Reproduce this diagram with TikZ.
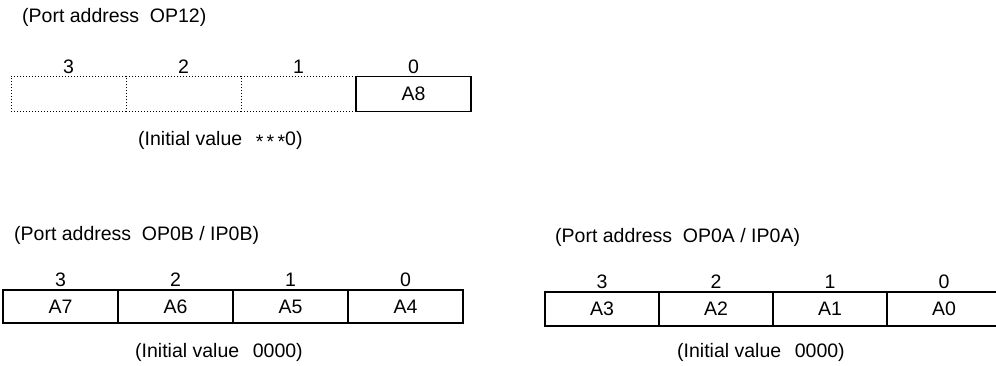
\documentclass[tikz,border=0pt]{standalone}
\usepackage{fontspec}
\setmainfont{Liberation Sans}
\usetikzlibrary{positioning}

\begin{document}
\begin{tikzpicture}[x=1pt,y=-1pt,
    every node/.style={font=\fontsize{19.5}{22}\selectfont},
    txt/.style={anchor=west,inner sep=0pt},
    bitno/.style={inner sep=0pt},
    cell/.style={draw,line width=1.2pt,minimum width=115pt,minimum height=34pt,inner sep=0pt},
    unused/.style={draw,dotted,line width=1pt,minimum width=115pt,minimum height=35pt,inner sep=0pt}]
   \useasboundingbox (0,0) rectangle (996,366);

   % port OP12
   \node[txt] (hdA) at (22,17) {(Port address\hspace{0.55em}OP12)};
   \node[unused] (c3) at (68.5,94) {};
   \node[unused] (c2) at (183.5,94) {};
   \node[unused] (c1) at (298.5,94) {};
   \node[cell,minimum height=35pt] (c0) at (413.5,94) {A8};
   \node[bitno] (n3) at (68.5,67) {3};
   \node[bitno] (n2) at (183.5,67) {2};
   \node[bitno] (n1) at (298.5,67) {1};
   \node[bitno] (n0) at (413.5,67) {0};
   \node[txt] (ivA) at (138,140) {(Initial value\hspace{0.7em}\raisebox{-0.35ex}{*\,*\,*}0)};

   % port OP0B / IP0B
   \node[txt] (hdB) at (14,235) {(Port address\hspace{0.55em}OP0B / IP0B)};
   \node[cell,minimum height=33pt] (b3) at (60.5,306.5) {A7};
   \node[cell,minimum height=33pt] (b2) at (175.5,306.5) {A6};
   \node[cell,minimum height=33pt] (b1) at (290.5,306.5) {A5};
   \node[cell,minimum height=33pt] (b0) at (405.5,306.5) {A4};
   \node[bitno] (m3) at (60.5,280) {3};
   \node[bitno] (m2) at (175.5,280) {2};
   \node[bitno] (m1) at (290.5,280) {1};
   \node[bitno] (m0) at (405.5,280) {0};
   \node[txt] (ivB) at (135,352) {(Initial value\hspace{0.7em}0000)};

   % port OP0A / IP0A
   \node[txt] (hdC) at (555,237) {(Port address\hspace{0.55em}OP0A / IP0A)};
   \node[cell,minimum width=114pt] (a3) at (602,309) {A3};
   \node[cell,minimum width=114pt] (a2) at (716,309) {A2};
   \node[cell,minimum width=114pt] (a1) at (830,309) {A1};
   \node[cell,minimum width=114pt] (a0) at (944,309) {A0};
   \node[bitno] (k3) at (602,282) {3};
   \node[bitno] (k2) at (716,282) {2};
   \node[bitno] (k1) at (830,282) {1};
   \node[bitno] (k0) at (944,282) {0};
   \node[txt] (ivC) at (677,352) {(Initial value\hspace{0.7em}0000)};
\end{tikzpicture}
\end{document}
